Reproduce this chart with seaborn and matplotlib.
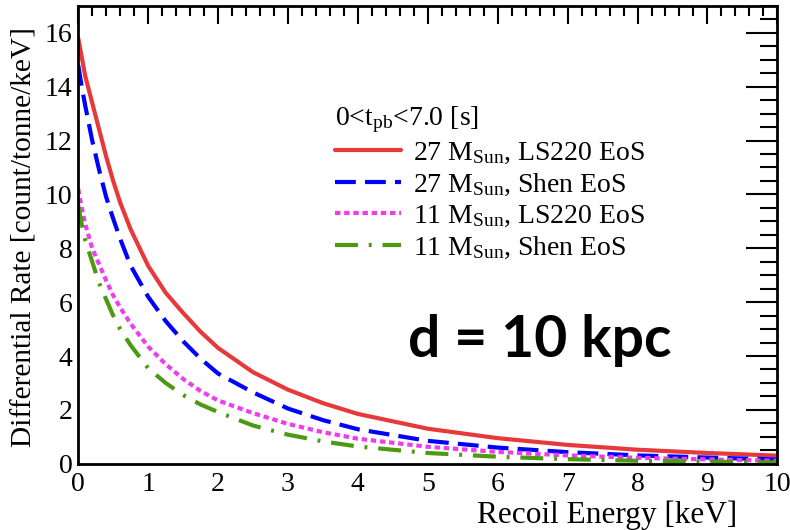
import numpy as np
import pandas as pd
import matplotlib
matplotlib.use("Agg")
import matplotlib.pyplot as plt
from matplotlib.ticker import MultipleLocator
import seaborn as sns

# Recoil energy grid [keV]
energy = [0.0, 0.05, 0.1, 0.2, 0.3, 0.4, 0.5, 0.6, 0.75, 1.0, 1.25, 1.5, 1.75, 2.0,
          2.5, 3.0, 3.5, 4.0, 5.0, 6.0, 7.0, 8.0, 9.0, 10.0]

# Differential rates [count/tonne/keV]
rate_27_ls220 = [15.8, 15.1, 14.4, 13.4, 12.4, 11.4, 10.5, 9.7, 8.7, 7.35, 6.35, 5.6, 4.9, 4.3,
                 3.4, 2.75, 2.25, 1.85, 1.3, 0.95, 0.7, 0.52, 0.4, 0.3]
rate_27_shen = [14.8, 14.0, 13.3, 12.0, 10.9, 9.9, 9.1, 8.35, 7.35, 6.2, 5.3, 4.55, 3.9, 3.35,
                2.65, 2.05, 1.62, 1.28, 0.85, 0.6, 0.43, 0.31, 0.23, 0.16]
rate_11_ls220 = [10.2, 9.5, 8.9, 8.0, 7.4, 6.8, 6.25, 5.8, 5.2, 4.35, 3.7, 3.15, 2.7, 2.35,
                 1.88, 1.48, 1.17, 0.93, 0.63, 0.44, 0.31, 0.22, 0.16, 0.11]
rate_11_shen = [9.6, 8.9, 8.3, 7.5, 6.7, 6.1, 5.5, 5.0, 4.4, 3.55, 3.0, 2.55, 2.2, 1.92,
                1.42, 1.08, 0.83, 0.64, 0.4, 0.26, 0.17, 0.11, 0.08, 0.05]

labels = [r"27 M$_{\rm Sun}$, LS220 EoS",
          r"27 M$_{\rm Sun}$, Shen EoS",
          r"11 M$_{\rm Sun}$, LS220 EoS",
          r"11 M$_{\rm Sun}$, Shen EoS"]

sns.set_theme(style="white")
plt.rcParams["font.family"] = ["Liberation Serif", "DejaVu Serif"]
plt.rcParams["mathtext.fontset"] = "custom"
plt.rcParams["mathtext.rm"] = "Liberation Serif"
plt.rcParams["mathtext.it"] = "Liberation Serif:italic"
plt.rcParams["text.color"] = "black"
plt.rcParams["axes.labelcolor"] = "black"

fig = plt.figure(figsize=(7.9, 5.3), dpi=100)
ax = fig.add_axes([0.099, 0.125, 0.885, 0.864])

series = [rate_27_ls220, rate_27_shen, rate_11_ls220, rate_11_shen]
colors = ["#e8393a", "#0000ff", "#ee3cee", "#4c9a12"]
styles = ["-", (0, (5, 2.2)), (0, (1.3, 0.9)), (0, (5.5, 2.6, 0.7, 2.6))]

for vals, col, ls, lab in zip(series, colors, styles, labels):
    df = pd.DataFrame({"E": energy, "R": vals})
    sns.lineplot(data=df, x="E", y="R", ax=ax, color=col, linewidth=3.0,
                 linestyle=ls, label=lab)

ax.set_xlim(0, 10)
ax.set_ylim(0, 17)
ax.xaxis.set_major_locator(MultipleLocator(1))
ax.xaxis.set_minor_locator(MultipleLocator(0.2))
ax.yaxis.set_major_locator(MultipleLocator(2))
ax.yaxis.set_minor_locator(MultipleLocator(0.5))
ax.tick_params(which="both", direction="in", top=True, right=True,
               colors="black", labelsize=20, width=1.5)
ax.tick_params(axis="x", which="major", length=13, pad=6)
ax.tick_params(axis="x", which="minor", length=7)
ax.tick_params(axis="y", which="major", length=22, pad=4)
ax.tick_params(axis="y", which="minor", length=12)
for s in ax.spines.values():
    s.set_color("black")
    s.set_linewidth(2.0)

ax.set_xlabel("Recoil Energy [keV]", fontsize=22.5)
ax.xaxis.set_label_coords(0.943, -0.113, transform=ax.transAxes)
ax.xaxis.label.set_horizontalalignment("right")
ax.xaxis.label.set_verticalalignment("center")
ax.set_ylabel("Differential Rate [count/tonne/keV]", fontsize=21.2)
ax.yaxis.set_label_coords(-0.077, 0.495, transform=ax.transAxes)
ax.yaxis.label.set_horizontalalignment("center")
ax.yaxis.label.set_verticalalignment("center")

leg = ax.legend(title=r"0<t$_{\rm pb}$<7.0 [s]", loc="upper left",
                bbox_to_anchor=(0.368, 0.785), frameon=False, fontsize=20,
                title_fontsize=20, handlelength=2.35, handletextpad=0.43,
                labelspacing=0.2, borderaxespad=0, borderpad=0)
leg._legend_box.align = "left"
leg.get_title().set_color("black")
for t in leg.get_texts():
    t.set_color("black")

ax.text(0.66, 0.27, "d = 10 kpc", transform=ax.transAxes, ha="center",
        va="center", fontsize=41, fontweight="bold",
        family=["Lato", "DejaVu Sans"], color="black")

fig.savefig("out.png", dpi=100)
